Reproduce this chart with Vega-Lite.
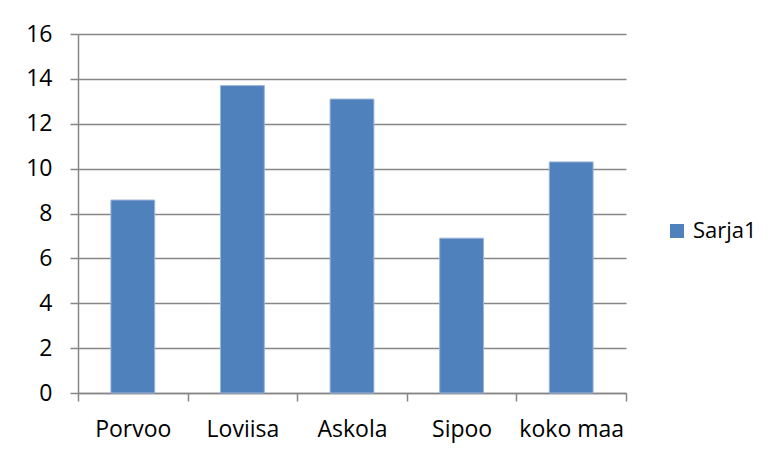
{
  "$schema": "https://vega.github.io/schema/vega-lite/v6.json",
  "autosize": {"type": "none"},
  "padding": {"left": 78, "top": 34, "right": 147, "bottom": 64},
  "width": 548,
  "height": 359,
  "background": "white",
  "config": {
    "view": {"stroke": null},
    "font": "Open Sans",
    "axis": {
      "labelFont": "Open Sans",
      "labelFontSize": 23,
      "labelColor": "#000000",
      "domainColor": "#868686",
      "tickColor": "#868686",
      "gridColor": "#868686",
      "domainWidth": 1.5,
      "tickWidth": 1.5,
      "gridWidth": 1.5,
      "title": null
    }
  },
  "data": {
    "values": [
      {"kunta": "Porvoo", "arvo": 8.6, "sarja": "Sarja1"},
      {"kunta": "Loviisa", "arvo": 13.7, "sarja": "Sarja1"},
      {"kunta": "Askola", "arvo": 13.1, "sarja": "Sarja1"},
      {"kunta": "Sipoo", "arvo": 6.9, "sarja": "Sarja1"},
      {"kunta": "koko maa", "arvo": 10.3, "sarja": "Sarja1"}
    ]
  },
  "mark": {"type": "bar", "width": {"band": 0.4}, "stroke": "#9DB5D9", "strokeWidth": 1},
  "encoding": {
    "x": {
      "field": "kunta",
      "type": "nominal",
      "sort": null,
      "scale": {"paddingInner": 0, "paddingOuter": 0},
      "axis": {"labelAngle": 0, "tickBand": "extent", "tickSize": 8, "labelPadding": 17, "grid": false}
    },
    "y": {
      "field": "arvo",
      "type": "quantitative",
      "scale": {"domain": [0, 16], "nice": false},
      "axis": {"values": [0, 2, 4, 6, 8, 10, 12, 14, 16], "tickSize": 8, "labelPadding": 18, "grid": true, "domain": true}
    },
    "color": {
      "field": "sarja",
      "type": "nominal",
      "scale": {"range": ["#4F81BD"]},
      "legend": {
        "title": null,
        "orient": "none",
        "legendX": 588,
        "legendY": 186,
        "symbolType": "square",
        "symbolSize": 196,
        "symbolStrokeWidth": 0,
        "labelFont": "Open Sans",
        "labelFontSize": 22,
        "labelColor": "#000000",
        "labelOffset": 5
      }
    }
  }
}
